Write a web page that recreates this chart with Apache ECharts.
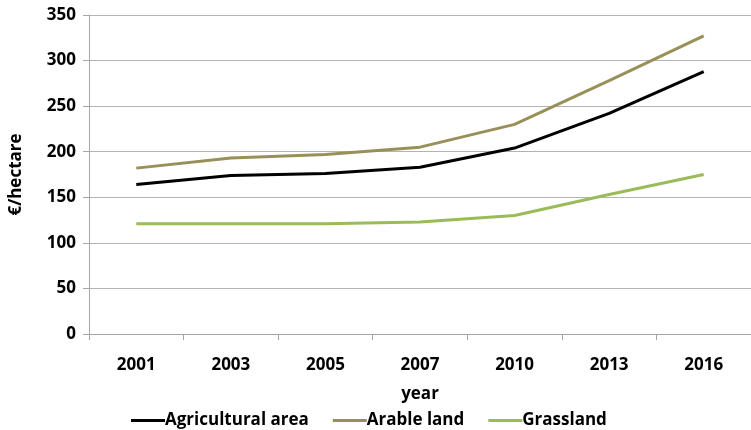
<!DOCTYPE html>
<html>
<head>
<meta charset="utf-8">
<script src="https://cdn.jsdelivr.net/npm/echarts@6/dist/echarts.min.js"></script>
<style>
  html, body { margin: 0; padding: 0; background: #fff; }
  #chart { width: 751px; height: 430px; }
</style>
</head>
<body>
<div id="chart"></div>
<script>
// Land prices per hectare by land use
const years = ['2001', '2003', '2005', '2007', '2010', '2013', '2016'];
const agriculturalArea = [164, 174, 176, 183, 204, 242, 288];
const arableLand = [182, 193, 197, 205, 230, 278, 327];
const grassland = [121, 121, 121, 123, 130, 153, 175];
const yTicks = [0, 50, 100, 150, 200, 250, 300, 350];

const FONT = "'Open Sans', 'Noto Sans', sans-serif";
const axisGrey = '#a6a6a6';

const chart = echarts.init(document.getElementById('chart'), null, { renderer: 'canvas' });

function lineSeries(name, data, color) {
  return {
    name: name,
    type: 'line',
    data: data,
    symbol: 'none',
    smooth: false,
    lineStyle: { color: color, width: 3 },
    itemStyle: { color: color },
    animation: false
  };
}

chart.setOption({
  backgroundColor: '#fff',
  animation: false,
  textStyle: { fontFamily: FONT },
  grid: { left: 86, top: 15, width: 672, bottom: 96, containLabel: false },
  legend: {
    top: 407,
    left: 126,
    itemWidth: 34,
    itemHeight: 3,
    itemGap: 24,
    icon: 'rect',
    textStyle: { fontFamily: FONT, fontSize: 17, fontWeight: 'bold', color: '#000', padding: [0, 0, 0, -5] },
    data: ['Agricultural area', 'Arable land', 'Grassland']
  },
  xAxis: {
    type: 'category',
    data: years,
    boundaryGap: true,
    name: 'year',
    nameLocation: 'middle',
    nameGap: 52,
    nameTextStyle: { fontFamily: FONT, fontSize: 17, fontWeight: 'bold', color: '#000' },
    axisLine: { lineStyle: { color: axisGrey, width: 1 } },
    axisTick: { show: true, length: 6, lineStyle: { color: axisGrey } },
    axisLabel: { fontFamily: FONT, fontSize: 17, fontWeight: 'bold', color: '#000', margin: 23 },
    splitLine: { show: false }
  },
  yAxis: {
    type: 'value',
    min: yTicks[0],
    max: yTicks[yTicks.length - 1],
    interval: yTicks[1] - yTicks[0],
    name: '€/hectare',
    nameLocation: 'middle',
    nameGap: 64,
    nameRotate: 90,
    nameTextStyle: { fontFamily: FONT, fontSize: 17, fontWeight: 'bold', color: '#000' },
    axisLine: { show: true, lineStyle: { color: axisGrey, width: 1 } },
    axisTick: { show: true, length: 6, lineStyle: { color: axisGrey } },
    axisLabel: { fontFamily: FONT, fontSize: 17, fontWeight: 'bold', color: '#000', margin: 13 },
    splitLine: { show: true, lineStyle: { color: '#b3b3b3', width: 1 } }
  },
  series: [
    lineSeries('Agricultural area', agriculturalArea, '#000000'),
    lineSeries('Arable land', arableLand, '#989058'),
    lineSeries('Grassland', grassland, '#9bbb59')
  ]
});
</script>
</body>
</html>
